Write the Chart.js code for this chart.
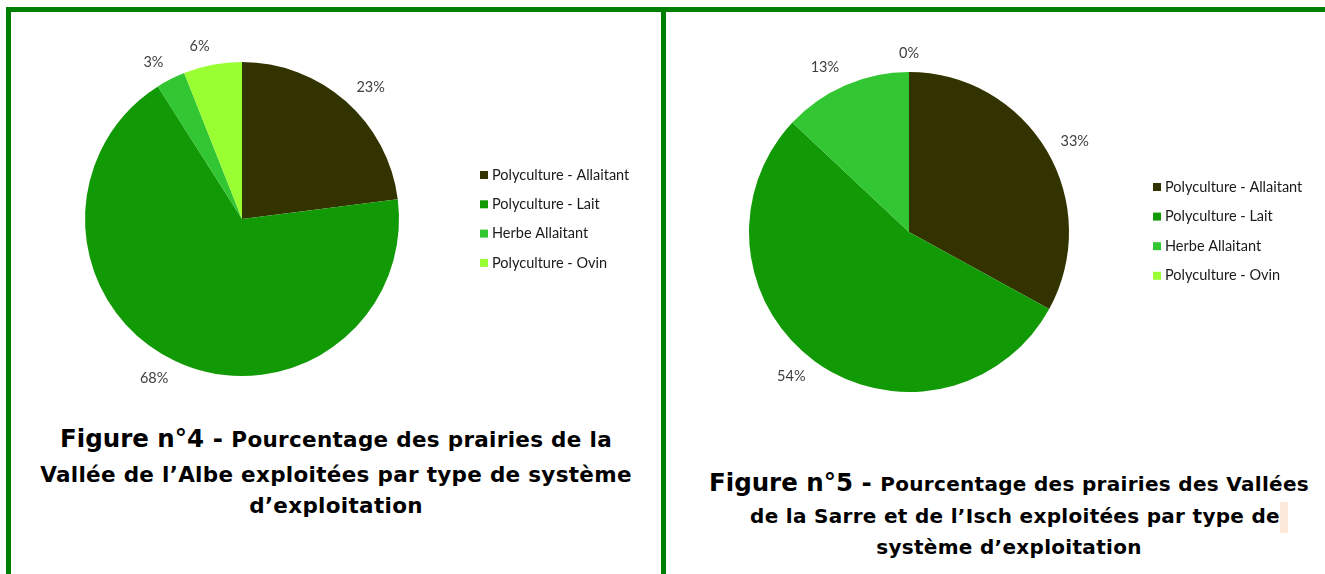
<!DOCTYPE html>
<html>
<head>
<meta charset="utf-8">
<script src="https://cdn.jsdelivr.net/npm/chart.js@4.4.1/dist/chart.umd.min.js"></script>
<style>
  html, body { margin:0; padding:0; background:#ffffff; }
  body { width:1325px; height:574px; position:relative; overflow:hidden; }
  .bar { position:absolute; background:#008000; }
  canvas { position:absolute; }
  .tl { position:absolute; height:30px; line-height:30px; text-align:center; white-space:nowrap;
        font-family:"DejaVu Sans",sans-serif; font-weight:bold; font-size:20px; letter-spacing:0.3px; color:#000; }
  .tl .big { font-size:24.5px; letter-spacing:0; }
  .tl.lft { font-size:21.5px; }
  .tl.lft .big { font-size:24.5px; }
  .mark { display:inline-block; width:8px; height:31px; background:#fde9d9; vertical-align:middle; }
</style>
</head>
<body>
<div class="bar" style="left:6px;top:7px;width:1319px;height:5px;"></div>
<div class="bar" style="left:6px;top:7px;width:5px;height:567px;"></div>
<div class="bar" style="left:661px;top:7px;width:5px;height:567px;"></div>

<canvas id="c1" width="649" height="407" style="left:12px;top:13px;width:649px;height:407px;"></canvas>
<canvas id="c2" width="658" height="407" style="left:667px;top:13px;width:658px;height:407px;"></canvas>

<div class="tl lft" style="left:11px;width:650px;top:424px;"><span class="big">Figure n°4 - </span>Pourcentage des prairies de la</div>
<div class="tl lft" style="left:11px;width:650px;top:460px;">Vallée de l’Albe exploitées par type de système</div>
<div class="tl lft" style="left:11px;width:650px;top:491px;">d’exploitation</div>

<div class="tl" style="left:689px;width:640px;top:468px;"><span class="big">Figure n°5 - </span>Pourcentage des prairies des Vallées</div>
<div class="tl" style="left:699px;width:640px;top:501px;">de la Sarre et de l’Isch exploitées par type de<span class="mark"></span></div>
<div class="tl" style="left:689px;width:640px;top:532px;">système d’exploitation</div>

<script>
const categories = ['Polyculture - Allaitant', 'Polyculture - Lait', 'Herbe Allaitant', 'Polyculture - Ovin'];
const valuesAlbe = [23, 68, 3, 6];
const valuesSarre = [33, 54, 13, 0];
const sliceColors = ['#333300', '#129a06', '#33c633', '#99ff33'];

const outsidePlugin = {
  id: 'outside',
  afterDraw(chart, args, opts) {
    const ctx = chart.ctx;
    const meta = chart.getDatasetMeta(0);
    const ds = chart.data.datasets[0];
    ctx.save();
    ctx.font = '14.5px Lato, "Open Sans", sans-serif';
    ctx.fillStyle = '#404040';
    ctx.textAlign = 'center';
    ctx.textBaseline = 'middle';
    meta.data.forEach((arc, i) => {
      const p = arc.getProps(['startAngle', 'endAngle', 'outerRadius', 'x', 'y'], true);
      const mid = (p.startAngle + p.endAngle) / 2;
      const txt = Math.round(ds.data[i]) + '%';
      const w = ctx.measureText(txt).width;
      const c = Math.cos(mid), s = Math.sin(mid);
      const side = c > 0.05 ? 1 : (c < -0.05 ? -1 : 0);
      const lx = p.x + (p.outerRadius + opts.gx) * c + side * w / 2;
      const ly = p.y + (p.outerRadius + opts.gy) * s;
      ctx.fillText(txt, lx, ly);
    });
    // legend
    ctx.textAlign = 'left';
    chart.data.labels.forEach((lab, i) => {
      const y = opts.legY + i * opts.legStep;
      ctx.fillStyle = ds.backgroundColor[i];
      ctx.fillRect(opts.legX, y - 4, 8, 8);
      ctx.fillStyle = '#1a1a1a';
      ctx.fillText(lab, opts.legX + 12, y);
    });
    ctx.restore();
  }
};

function makePie(id, values, pad, legX, legY, legStep) {
  return new Chart(document.getElementById(id), {
    type: 'pie',
    data: {
      labels: categories,
      datasets: [{ data: values, backgroundColor: sliceColors, borderWidth: 0 }]
    },
    options: {
      responsive: false,
      animation: false,
      layout: { padding: pad },
      plugins: {
        legend: { display: false },
        tooltip: { enabled: false },
        outside: { legX: legX, legY: legY, legStep: legStep, gx: 16, gy: 19 }
      }
    },
    plugins: [outsidePlugin]
  });
}

makePie('c1', valuesAlbe, { left: 73, right: 262, top: 49, bottom: 44 }, 468, 162, 29.3);
makePie('c2', valuesSarre, { left: 82, right: 256, top: 59, bottom: 28 }, 486, 174, 29.6);
</script>
</body>
</html>
